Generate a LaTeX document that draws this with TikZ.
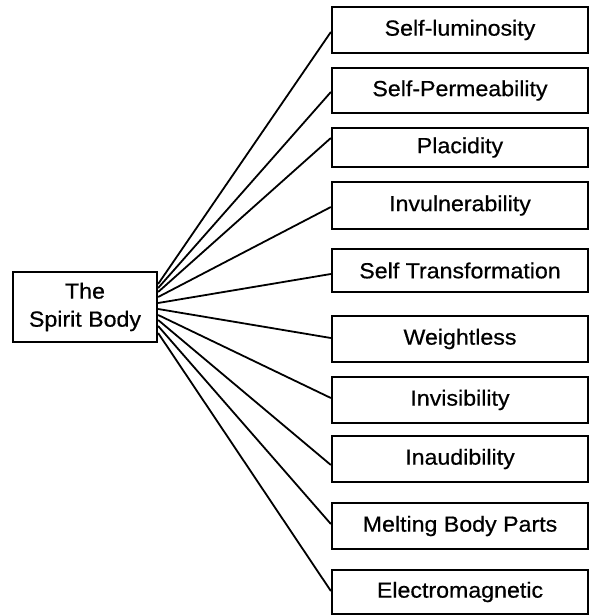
\documentclass[tikz,border=0pt]{standalone}
\usepackage{fontspec}
\setmainfont{Liberation Sans}[FakeStretch=1.06,FakeBold=0.6]
\newdimen\px \px=0.75pt
\begin{document}
\begin{tikzpicture}[x=0.75pt,y=-0.75pt,
  box/.style={draw, line width=1.7pt, minimum width=256\px, inner sep=0pt,
    font=\fontsize{16.4}{21}\selectfont},
  link/.style={line width=1.35pt}]
\useasboundingbox (0,0) rectangle (590,616);
\node[draw, line width=1.7pt, minimum width=144\px, minimum height=70\px, inner sep=0pt,
  align=center, font=\fontsize{16.4}{21}\selectfont] (root) at (85,307) {The\\Spirit Body};
\node[box, minimum height=46\px] (b1) at (460,30) {Self-luminosity};
\node[box, minimum height=45\px] (b2) at (460,90.5) {Self-Permeability};
\node[box, minimum height=39\px] (b3) at (460,147.5) {Placidity};
\node[box, minimum height=47\px] (b4) at (460,205.5) {Invulnerability};
\node[box, minimum height=43\px] (b5) at (460,270.5) {Self Transformation};
\node[box, minimum height=46\px] (b6) at (460,339) {Weightless};
\node[box, minimum height=46\px] (b7) at (460,400) {Invisibility};
\node[box, minimum height=46\px] (b8) at (460,459) {Inaudibility};
\node[box, minimum height=46\px] (b9) at (460,526) {Melting Body Parts};
\node[box, minimum height=44\px] (b10) at (460,592) {Electromagnetic};
\foreach \i/\sy/\ey in {1/284/32, 2/288/92, 3/292/138, 4/297/207, 5/303/274,
                        6/309/338, 7/315/398, 8/320/465, 9/326/524, 10/333/591} {
  \coordinate (s\i) at (root.east |- 0,\sy);
  \coordinate (e\i) at (b\i.west |- 0,\ey);
  \draw[link] (s\i) -- (e\i);
}
\end{tikzpicture}
\end{document}
